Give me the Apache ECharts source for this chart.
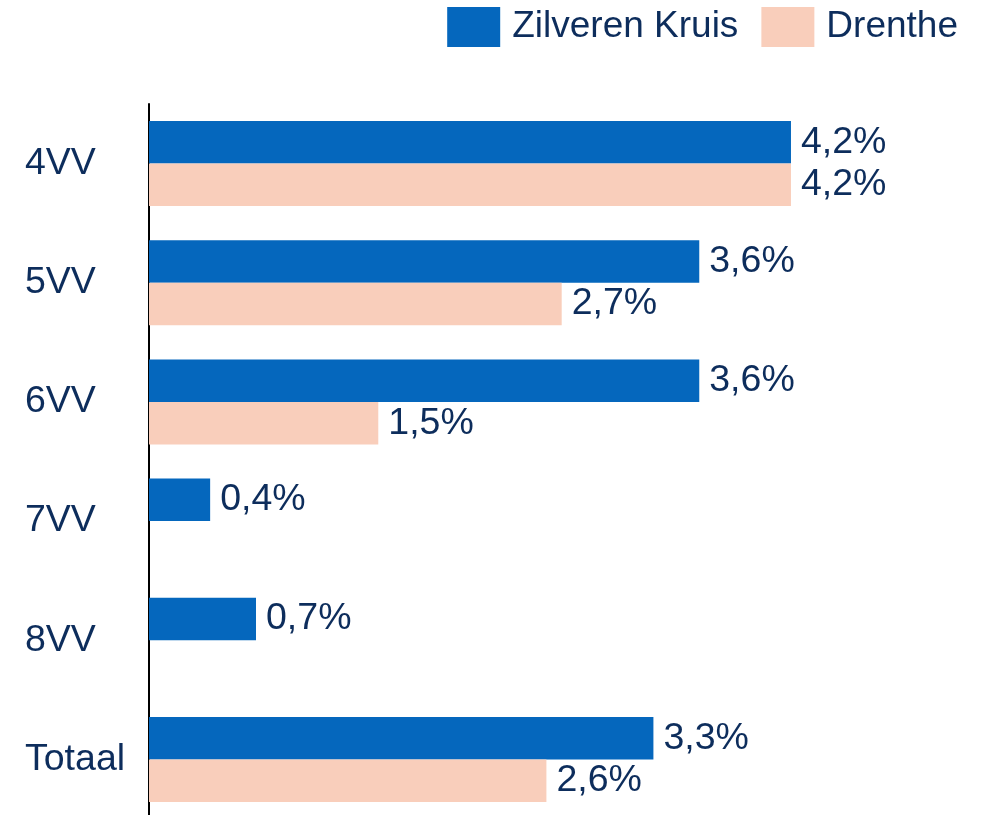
<!DOCTYPE html>
<html>
<head>
<meta charset="utf-8">
<script src="https://cdn.jsdelivr.net/npm/echarts@6/dist/echarts.min.js"></script>
<style>
  html, body { margin: 0; padding: 0; background: #ffffff; }
  #chart { width: 987px; height: 815px; }
</style>
</head>
<body>
<div id="chart"></div>
<script>
// Categories and percentages per region
const categories = ['4VV', '5VV', '6VV', '7VV', '8VV', 'Totaal'];
const zilverenKruis = [4.2, 3.6, 3.6, 0.4, 0.7, 3.3];
const drenthe = [4.2, 2.7, 1.5, null, null, 2.6];
const seriesNames = ['Zilveren Kruis', 'Drenthe'];

const textColor = '#0d2d5c';
const fontFamily = '"Liberation Sans", Arial, sans-serif';
const fontSize = 37.5;

const fmt = p => p.value == null ? '' : p.value.toFixed(1).replace('.', ',') + '%';

const chart = echarts.init(document.getElementById('chart'), null, { renderer: 'canvas' });

chart.setOption({
  backgroundColor: '#ffffff',
  animation: false,
  textStyle: { fontFamily: fontFamily },
  legend: {
    data: seriesNames,
    right: 29,
    top: 7,
    padding: 0,
    itemWidth: 53,
    itemHeight: 40,
    itemGap: 23,
    icon: 'rect',
    textStyle: { fontSize: 37, color: textColor, fontFamily: fontFamily, padding: [6, 0, 0, 7] }
  },
  // the plot area runs past the bottom edge of the canvas
  grid: { left: 149, right: 12.6, top: 104, height: 715, containLabel: false, outerBoundsMode: 'none' },
  xAxis: {
    type: 'value',
    min: 0,
    max: 5.4,
    show: false,
    splitLine: { show: false }
  },
  yAxis: {
    type: 'category',
    data: categories,
    inverse: true,
    axisLine: { show: true, lineStyle: { color: '#000000', width: 2 } },
    axisTick: { show: false },
    axisLabel: {
      align: 'left',
      margin: 124,
      fontSize: fontSize,
      color: textColor,
      fontFamily: fontFamily
    }
  },
  series: [
    {
      name: seriesNames[0],
      type: 'bar',
      data: zilverenKruis,
      barGap: '0%',
      barCategoryGap: '28.7%',
      itemStyle: { color: '#0567bd' },
      label: {
        show: true, position: 'right', distance: 10, padding: [4, 0, 0, 0],
        fontSize: fontSize, color: textColor, fontFamily: fontFamily, formatter: fmt
      }
    },
    {
      name: seriesNames[1],
      type: 'bar',
      data: drenthe,
      barGap: '0%',
      barCategoryGap: '28.7%',
      itemStyle: { color: '#f9cebb' },
      label: {
        show: true, position: 'right', distance: 10, padding: [4, 0, 0, 0],
        fontSize: fontSize, color: textColor, fontFamily: fontFamily, formatter: fmt
      }
    }
  ]
});
</script>
</body>
</html>
